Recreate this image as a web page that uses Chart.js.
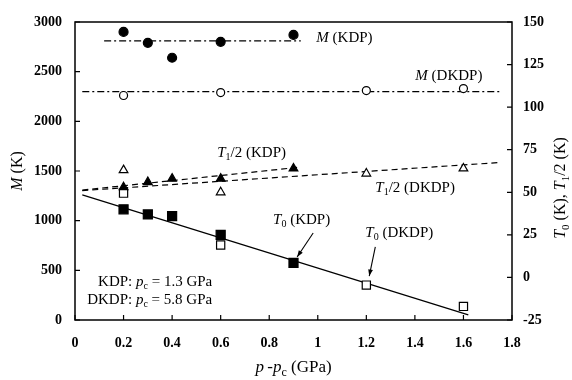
<!DOCTYPE html>
<html>
<head>
<meta charset="utf-8">
<script src="https://cdn.jsdelivr.net/npm/chart.js@4.4.0/dist/chart.umd.min.js"></script>
<style>
html, body { margin: 0; padding: 0; background: #fff; }
</style>
</head>
<body>
<canvas id="chart" width="572" height="380"></canvas>
<script>
// pressure above pc (GPa)
const pKDP = [0.2, 0.3, 0.4, 0.6, 0.9];
const pDKDP = [0.2, 0.6, 1.2, 1.6];

// M (K), left axis
const mKDP = [2900, 2790, 2640, 2800, 2870];
const mDKDP = [2260, 2290, 2310, 2330];

// T1/2 and T0 (K), right axis
const tHalfKDP = [53, 56, 58, 58, 64];
const tHalfDKDP = [63, 50, 61, 64];
const t0KDP = [40, 37, 36, 25, 8.5];
const t0DKDP = [49.5, 19, -4.5, -17];

// fitted lines (end points)
const fitMKDPx = [0.12, 0.93], fitMKDPy = [2810, 2810];
const fitMDKDPx = [0.03, 1.75], fitMDKDPy = [2300, 2300];
const fitHalfKDPx = [0.03, 0.93], fitHalfKDPy = [51.3, 64.8];
const fitHalfDKDPx = [0.03, 1.75], fitHalfDKDPy = [51, 67.5];
const fitT0x = [0.03, 1.62], fitT0y = [48.5, -22];

// tick labels
const xTicks = [0, 0.2, 0.4, 0.6, 0.8, 1, 1.2, 1.4, 1.6, 1.8];
const mTicks = [0, 500, 1000, 1500, 2000, 2500, 3000];
const tTicks = [-25, 0, 25, 50, 75, 100, 125, 150];

const serif = '"Liberation Serif", "Times New Roman", serif';

function pts(xs, ys) {
    return xs.map((x, i) => ({ x: x, y: ys[i] }));
}

function markers(xs, ys, axis, style, r, filled) {
    return {
        data: pts(xs, ys), yAxisID: axis, showLine: false,
        pointStyle: style, pointRadius: r, pointHoverRadius: r,
        pointBackgroundColor: filled ? '#000' : '#fff',
        pointBorderColor: '#000', pointBorderWidth: 1.2
    };
}

function fitLine(xs, ys, axis, dash) {
    return {
        data: pts(xs, ys), yAxisID: axis, showLine: true,
        pointRadius: 0, borderColor: '#000', borderWidth: 1.2,
        borderDash: dash, fill: false
    };
}

// ---- rich text helpers (italic / subscript pieces) ----
function fontFor(p, size) {
    const fs = p[2] ? Math.round(size * 0.68) : size;
    return (p[1] ? 'italic ' : '') + fs + 'px ' + serif;
}
function partsWidth(ctx, parts, size) {
    let w = 0;
    parts.forEach(p => { ctx.font = fontFor(p, size); w += ctx.measureText(p[0]).width; });
    return w;
}
function drawParts(ctx, parts, x, y, size) {
    let cx = x;
    ctx.textAlign = 'left';
    ctx.textBaseline = 'middle';
    parts.forEach(p => {
        ctx.font = fontFor(p, size);
        ctx.fillText(p[0], cx, y + (p[2] ? size * 0.3 : 0));
        cx += ctx.measureText(p[0]).width;
    });
}
function arrow(ctx, x1, y1, x2, y2) {
    ctx.beginPath(); ctx.moveTo(x1, y1); ctx.lineTo(x2, y2); ctx.stroke();
    const ang = Math.atan2(y2 - y1, x2 - x1), h = 7;
    ctx.beginPath();
    ctx.moveTo(x2, y2);
    ctx.lineTo(x2 - h * Math.cos(ang - 0.35), y2 - h * Math.sin(ang - 0.35));
    ctx.lineTo(x2 - h * Math.cos(ang + 0.35), y2 - h * Math.sin(ang + 0.35));
    ctx.closePath(); ctx.fill();
}

// labels in data coordinates: [x, y, axis, parts]
const notes = [
    [0.994, 2840, 'yM', [['M', 1], [' (KDP)']]],
    [1.402, 2457, 'yM', [['M', 1], [' (DKDP)']]],
    [0.586, 73, 'yT', [['T', 1], ['1', 0, 1], ['/2 (KDP)']]],
    [1.237, 52.5, 'yT', [['T', 1], ['1', 0, 1], ['/2 (DKDP)']]],
    [0.816, 33.7, 'yT', [['T', 1], ['0', 0, 1], [' (KDP)']]],
    [1.196, 26.1, 'yT', [['T', 1], ['0', 0, 1], [' (DKDP)']]],
    [0.095, 383, 'yM', [['KDP: '], ['p', 1], ['c', 0, 1], [' = 1.3 GPa']]],
    [0.05, 200, 'yM', [['DKDP: '], ['p', 1], ['c', 0, 1], [' = 5.8 GPa']]]
];
const arrows = [
    [0.981, 26.1, 0.915, 12.0],
    [1.237, 17.9, 1.212, 0.8]
];

const decor = {
    id: 'decor',
    afterDatasetsDraw(chart) {
        const { ctx, chartArea: a, scales } = chart;
        ctx.save();
        ctx.strokeStyle = '#000';
        ctx.fillStyle = '#000';
        ctx.lineWidth = 1.5;
        ctx.strokeRect(a.left, a.top, a.right - a.left, a.bottom - a.top);

        ctx.lineWidth = 1.2;
        ctx.beginPath();
        xTicks.forEach(v => {
            const px = scales.x.getPixelForValue(v);
            ctx.moveTo(px, a.bottom); ctx.lineTo(px, a.bottom - 5);
        });
        mTicks.forEach(v => {
            const py = scales.yM.getPixelForValue(v);
            ctx.moveTo(a.left, py); ctx.lineTo(a.left + 5, py);
        });
        tTicks.forEach(v => {
            const py = scales.yT.getPixelForValue(v);
            ctx.moveTo(a.right, py); ctx.lineTo(a.right - 5, py);
        });
        ctx.stroke();

        notes.forEach(n => {
            drawParts(ctx, n[3], scales.x.getPixelForValue(n[0]), scales[n[2]].getPixelForValue(n[1]), 15);
        });
        ctx.lineWidth = 1.1;
        arrows.forEach(r => {
            arrow(ctx, scales.x.getPixelForValue(r[0]), scales.yT.getPixelForValue(r[1]),
                scales.x.getPixelForValue(r[2]), scales.yT.getPixelForValue(r[3]));
        });

        // axis titles
        const xt = [['p', 1], ['\u2009-'], ['p', 1], ['c', 0, 1], [' (GPa)']];
        const cx = (a.left + a.right) / 2;
        drawParts(ctx, xt, cx - partsWidth(ctx, xt, 17) / 2, 368, 17);

        const lt = [['M', 1], [' (K)']];
        ctx.save();
        ctx.translate(18, (a.top + a.bottom) / 2);
        ctx.rotate(-Math.PI / 2);
        drawParts(ctx, lt, -partsWidth(ctx, lt, 16) / 2, 0, 16);
        ctx.restore();

        const rt = [['T', 1], ['0', 0, 1], [' (K), '], ['T', 1], ['1', 0, 1], ['/2 (K)']];
        ctx.save();
        ctx.translate(561, 188);
        ctx.rotate(-Math.PI / 2);
        drawParts(ctx, rt, -partsWidth(ctx, rt, 16) / 2, 0, 16);
        ctx.restore();
        ctx.restore();
    }
};

const tickFont = { family: serif, size: 14, weight: 'bold' };

new Chart(document.getElementById('chart'), {
    type: 'scatter',
    data: {
        datasets: [
            markers(pKDP, mKDP, 'yM', 'circle', 4.5, true),
            markers(pDKDP, mDKDP, 'yM', 'circle', 4, false),
            markers(pKDP, tHalfKDP, 'yT', 'triangle', 5, true),
            markers(pDKDP, tHalfDKDP, 'yT', 'triangle', 5, false),
            markers(pKDP, t0KDP, 'yT', 'rect', 6.4, true),
            markers(pDKDP, t0DKDP, 'yT', 'rect', 5.8, false),
            fitLine(fitMKDPx, fitMKDPy, 'yM', [7, 3, 2, 3]),
            fitLine(fitMDKDPx, fitMDKDPy, 'yM', [7, 3, 2, 3]),
            fitLine(fitHalfKDPx, fitHalfKDPy, 'yT', [6, 4]),
            fitLine(fitHalfDKDPx, fitHalfDKDPy, 'yT', [6, 4]),
            fitLine(fitT0x, fitT0y, 'yT', [])
        ]
    },
    options: {
        responsive: false,
        animation: false,
        layout: { padding: { top: 22, left: 0, right: 0, bottom: 0 } },
        plugins: { legend: { display: false }, tooltip: { enabled: false } },
        scales: {
            x: {
                type: 'linear', min: 0, max: 1.8,
                afterBuildTicks: s => { s.ticks = xTicks.map(v => ({ value: v })); },
                afterFit: s => { s.height = 60; },
                grid: { display: false, drawTicks: false },
                border: { display: false },
                ticks: { padding: 15, color: '#000', font: tickFont, maxRotation: 0, autoSkip: false, callback: v => String(v) }
            },
            yM: {
                type: 'linear', position: 'left', min: 0, max: 3000,
                afterBuildTicks: s => { s.ticks = mTicks.map(v => ({ value: v })); },
                afterFit: s => { s.width = 75; },
                grid: { display: false, drawTicks: false },
                border: { display: false },
                ticks: { padding: 13, color: '#000', font: tickFont, callback: v => String(v) }
            },
            yT: {
                type: 'linear', position: 'right', min: -25, max: 150,
                afterBuildTicks: s => { s.ticks = tTicks.map(v => ({ value: v })); },
                afterFit: s => { s.width = 60; },
                grid: { display: false, drawTicks: false },
                border: { display: false },
                ticks: { padding: 11, color: '#000', font: tickFont, callback: v => String(v) }
            }
        }
    },
    plugins: [decor]
});
</script>
</body>
</html>
